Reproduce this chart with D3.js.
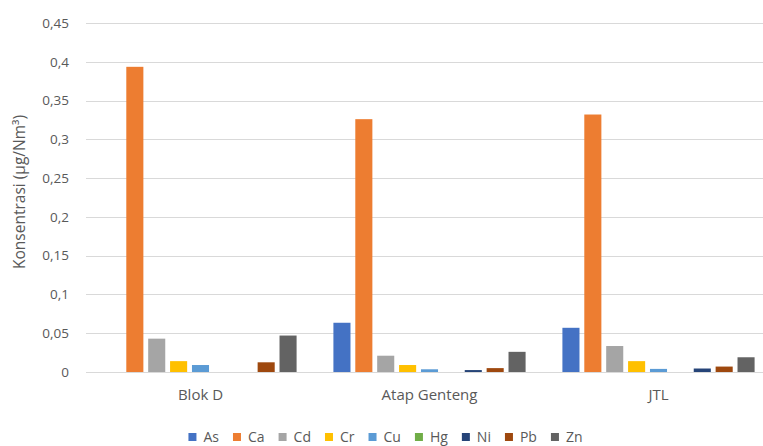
<!DOCTYPE html>
<html>
<head>
<meta charset="utf-8">
<script src="https://cdn.jsdelivr.net/npm/d3@7"></script>
<style>
  body { margin: 0; background: #fff; }
  text { font-family: "Open Sans", sans-serif; fill: #595959; }
</style>
</head>
<body>
<div id="chart"></div>
<script>
// data
var groups = ["Blok D", "Atap Genteng", "JTL"];
var series = ["As", "Ca", "Cd", "Cr", "Cu", "Hg", "Ni", "Pb", "Zn"];
var colors = ["#4472C4", "#ED7D31", "#A5A5A5", "#FFC000", "#5B9BD5", "#70AD47", "#264478", "#9E480E", "#636363"];
var blokD = [0, 0.3935, 0.043, 0.014, 0.009, 0, 0, 0.0125, 0.047];
var atapGenteng = [0.0635, 0.326, 0.021, 0.009, 0.0035, 0, 0.0025, 0.005, 0.026];
var jtl = [0.057, 0.332, 0.0335, 0.014, 0.004, 0, 0.0045, 0.007, 0.019];
var yTicks = [0, 0.05, 0.1, 0.15, 0.2, 0.25, 0.3, 0.35, 0.4, 0.45];

var values = [blokD, atapGenteng, jtl];

var width = 763, height = 446;
var margin = {top: 23, right: -10, bottom: 74, left: 86};

var svg = d3.select("#chart")
    .append("svg")
    .attr("width", width)
    .attr("height", height);

var x0 = d3.scaleBand()
    .domain(groups)
    .range([margin.left, width - margin.right]);

var x1 = d3.scaleBand()
    .domain(series)
    .range([16, x0.bandwidth() - 16])
    .paddingInner(0.22)
    .paddingOuter(0.11);

var y = d3.scaleLinear()
    .domain([0, 0.45])
    .range([height - margin.bottom, margin.top]);

var fmt = function(d) { return String(d).replace(".", ","); };

// gridlines
svg.append("g")
    .selectAll("line")
    .data(yTicks)
    .enter()
    .append("line")
    .attr("x1", margin.left)
    .attr("x2", width)
    .attr("y1", function(d) { return Math.round(y(d)) + 0.5; })
    .attr("y2", function(d) { return Math.round(y(d)) + 0.5; })
    .attr("stroke", "#d9d9d9")
    .attr("stroke-width", 1);

// y tick labels
svg.append("g")
    .selectAll("text")
    .data(yTicks)
    .enter()
    .append("text")
    .attr("x", 69)
    .attr("y", function(d) { return y(d); })
    .attr("dy", "0.35em")
    .attr("text-anchor", "end")
    .style("font-size", "13.5px")
    .text(fmt);

// bars
var rows = [];
groups.forEach(function(g, gi) {
    series.forEach(function(s, si) {
        rows.push({group: g, key: s, value: values[gi][si], color: colors[si]});
    });
});

svg.append("g")
    .selectAll("rect")
    .data(rows.filter(function(d) { return d.value > 0; }))
    .enter()
    .append("rect")
    .attr("x", function(d) { return x0(d.group) + x1(d.key); })
    .attr("y", function(d) { return y(d.value); })
    .attr("width", x1.bandwidth())
    .attr("height", function(d) { return y(0) - y(d.value); })
    .attr("fill", function(d) { return d.color; });

// x labels
svg.append("g")
    .selectAll("text")
    .data(groups)
    .enter()
    .append("text")
    .attr("x", function(d) { return x0(d) + x0.bandwidth() / 2; })
    .attr("y", 400)
    .attr("text-anchor", "middle")
    .style("font-size", "15px")
    .text(function(d) { return d; });

// y title
svg.append("text")
    .attr("transform", "translate(25,192) rotate(-90)")
    .attr("text-anchor", "middle")
    .style("font-size", "15.5px")
    .text("Konsentrasi (µg/Nm³)");

// legend
var legend = svg.append("g");
var lx = 0;
series.forEach(function(s, i) {
    var item = legend.append("g").attr("transform", "translate(" + lx + ",0)");
    item.append("rect")
        .attr("x", 0).attr("y", -9)
        .attr("width", 8).attr("height", 8)
        .attr("fill", colors[i]);
    var t = item.append("text")
        .attr("x", 15).attr("y", 0)
        .style("font-size", "14px")
        .text(s);
    lx += 15 + t.node().getComputedTextLength() + 14;
});
lx -= 14;
legend.attr("transform", "translate(" + ((width - lx) / 2 + 4) + ",442)");
</script>
</body>
</html>
